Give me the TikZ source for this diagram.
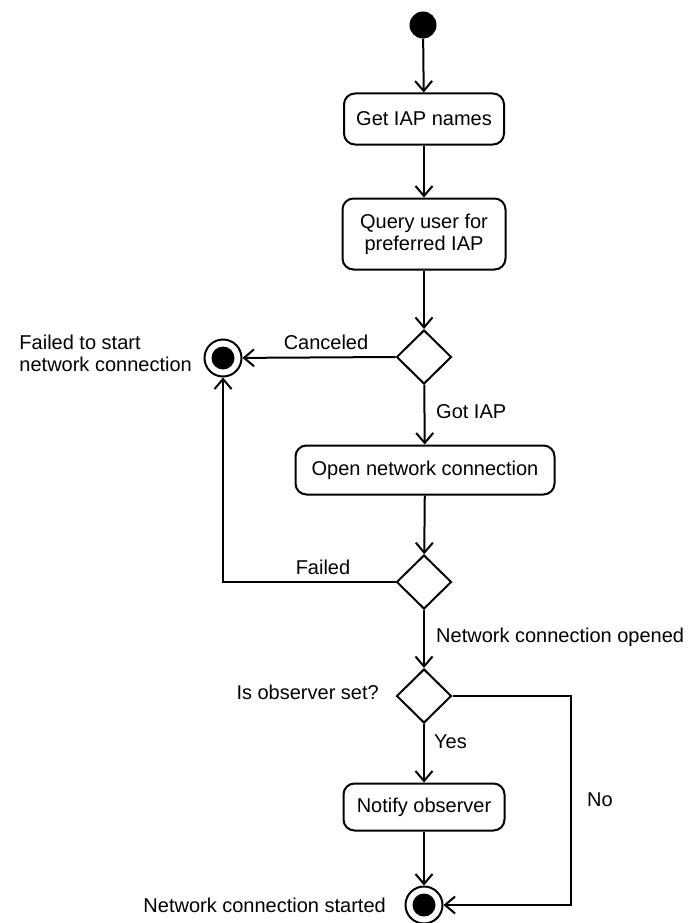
\documentclass[tikz,border=0pt]{standalone}
\usepackage{fontspec}
\setmainfont{Liberation Sans}
\usetikzlibrary{arrows.meta,shapes.geometric}

\tikzset{
    txt/.style={font=\fontsize{20}{22}\selectfont, inner sep=0pt},
    action/.style={txt, draw, line width=2pt, rounded corners=11pt, align=center},
    decision/.style={draw, diamond, line width=2pt, minimum width=55pt, minimum height=54pt, inner sep=0pt},
    initial/.style={circle, fill, minimum size=27pt, inner sep=0pt},
    final/.style={circle, draw, line width=2pt, minimum size=37pt, inner sep=0pt,
        path picture={\fill (path picture bounding box.center) circle (11.5pt);}},
    flow/.style={line width=2pt, -{Straight Barb[length=10pt,width=17pt]}}
}

\begin{document}
\begin{tikzpicture}[x=1pt, y=-1pt]
    \useasboundingbox (0,0) rectangle (690,923);
    % states
    \node[initial] (start) at (423,25) {};
    \node[action, minimum width=160, minimum height=51] (names) at (424,119) {Get IAP names};
    \node[action, minimum width=163, minimum height=71] (query) at (424,234) {Query user for\\preferred IAP};
    \node[decision] (iap) at (424,357) {};
    \node[final] (fail) at (223,358) {};
    \node[action, minimum width=259, minimum height=49] (open) at (425,470) {Open network connection};
    \node[decision] (opened) at (424,582) {};
    \node[decision] (observer) at (424,696) {};
    \node[action, minimum width=161, minimum height=47] (notify) at (424,807) {Notify observer};
    \node[final] (done) at (424,905) {};
    \coordinate (corner) at (571,696);
    % labels
    \node[txt, anchor=east, align=left] (failtxt) at (192,353) {Failed to start\\network connection};
    \node[txt] (canceled) at (326,342) {Canceled};
    \node[txt, anchor=west] (gotiap) at (436,412) {Got IAP};
    \node[txt] (failed) at (323,567) {Failed};
    \node[txt, anchor=west] (openedtxt) at (436,637) {Network connection opened};
    \node[txt, anchor=east] (observertxt) at (379,692) {Is observer set?};
    \node[txt, anchor=west] (yes) at (434,742) {Yes};
    \node[txt, anchor=west] (no) at (587,800) {No};
    \node[txt, anchor=east] (donetxt) at (386,905) {Network connection started};
    % transitions
    \draw[flow] (start) -- (names);
    \draw[flow] (names) -- (query);
    \draw[flow] (query) -- (iap);
    \draw[flow] (iap.west) -- (fail);
    \draw[flow] (iap) -- (open);
    \draw[flow] (open) -- (opened);
    \draw[flow] (opened.west) -| (fail.south);
    \draw[flow] (opened) -- (observer);
    \draw[flow] (observer) -- (notify);
    \draw[flow] (notify) -- (done);
    \draw[flow] (observer.east) -- (corner) |- (done.east);
\end{tikzpicture}
\end{document}
